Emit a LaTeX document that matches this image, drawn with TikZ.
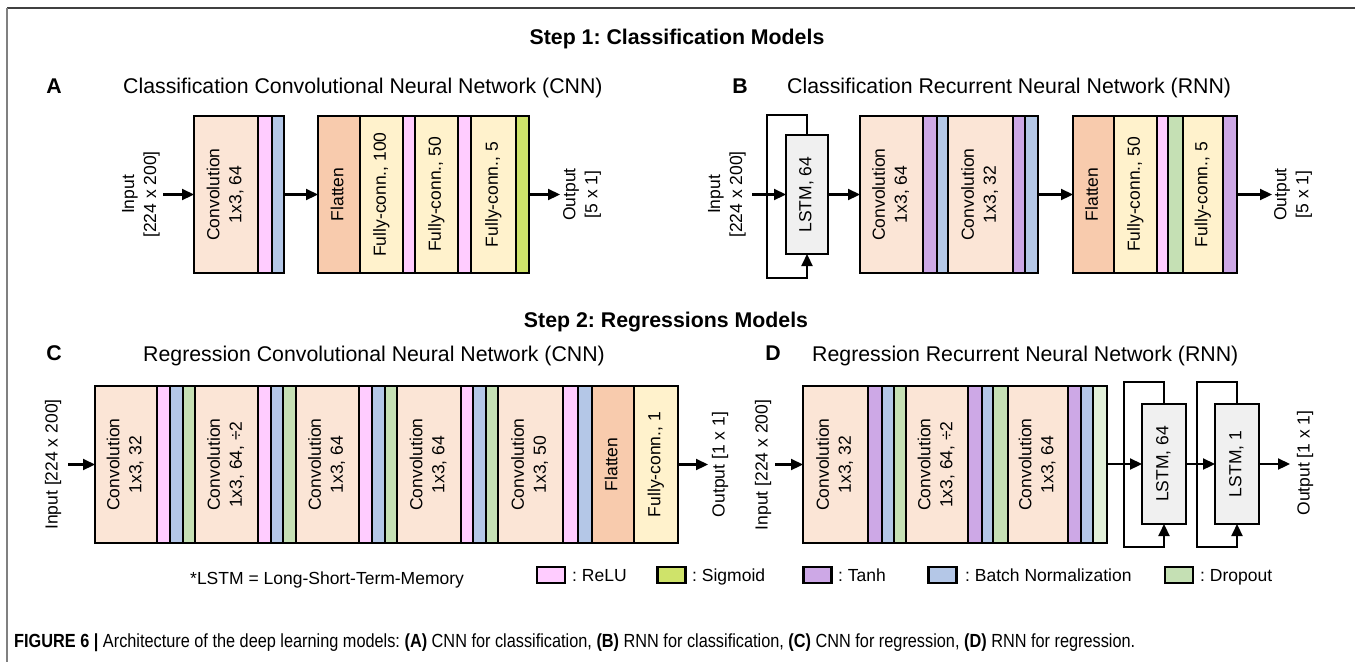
\documentclass[tikz,border=0pt]{standalone}
\usepackage{fontspec}
\setmainfont{Liberation Sans}
\usepackage{graphicx}
\usetikzlibrary{arrows.meta}
\definecolor{cconv}{HTML}{FBE5D6}
\definecolor{cflat}{HTML}{F8CBAD}
\definecolor{cfc}{HTML}{FFF2CC}
\definecolor{crelu}{HTML}{FFCCFF}
\definecolor{cbn}{HTML}{B4C7E7}
\definecolor{cdrop}{HTML}{C5E0B4}
\definecolor{cdropl}{HTML}{E2F0D9}
\definecolor{csig}{HTML}{CFE36A}
\definecolor{ctanh}{HTML}{CDA8E6}
\definecolor{clstm}{HTML}{F0F0F0}
\newcommand\btop{116}
\newcommand\bbot{273}
\newcommand\blk[5]{\node[blkbase,fill=#1,minimum width={(#3-#2)*1pt},minimum height={(\bbot-\btop)*1pt}] (#4) at ({(#2+#3)/2},{(\btop+\bbot)/2}) {#5};}
\newcommand\rtxt[1]{\rotatebox{90}{\begin{tabular}{@{}c@{}}#1\end{tabular}}}
\frenchspacing
\begin{document}
\begin{tikzpicture}[x=1pt,y=-1pt,
  blkbase/.style={draw,line width=2.2pt,rectangle,inner sep=0pt,outer sep=0pt,font=\fontsize{17.5}{22}\selectfont},
  lstm/.style={blkbase,fill=clstm},
  arr/.style={line width=2.2pt,-{Triangle[length=12pt,width=11pt]}},
  lbl/.style={font=\fontsize{17.5}{22}\selectfont,align=center,inner sep=0pt,rotate=90},
  ttl/.style={font=\fontsize{21.3}{25}\selectfont,anchor=base west,inner sep=0pt},
  hd/.style={font=\fontsize{21.3}{25}\selectfont\bfseries,anchor=base,inner sep=0pt},
  leg/.style={draw,line width=2.2pt,minimum width=28pt,minimum height=16pt,inner sep=0pt},
  legt/.style={font=\fontsize{17.5}{22}\selectfont,anchor=base west,inner sep=0pt}]
\useasboundingbox (0,0) rectangle (1355,662);
% frame
\draw[line width=2pt,black!75] (7,8) -- (1355,8);
\draw[line width=2pt,black!50] (7,8) -- (7,662);
% headings
\node[hd] (s1) at (677,44.7) {Step 1: Classification Models};
\node[hd] (s2) at (666,327) {Step 2: Regressions Models};
\node[hd] (lA) at (54,93) {A};
\node[hd] (lB) at (740,93) {B};
\node[hd] (lC) at (54,360.5) {C};
\node[hd] (lD) at (773,360.5) {D};
\node[ttl] (tA) at (123,93.5) {Classification Convolutional Neural Network (CNN)};
\node[ttl] (tB) at (787,93.5) {Classification Recurrent Neural Network (RNN)};
\node[ttl] (tC) at (143,361) {Regression Convolutional Neural Network (CNN)};
\node[ttl] (tD) at (812,361) {Regression Recurrent Neural Network (RNN)};
% ---------------- Panel A
\blk{cconv}{194}{258}{a1}{\rtxt{Convolution\\1x3, 64}}
\blk{crelu}{258}{272}{a2}{}
\blk{cbn}{272}{284}{a3}{}
\blk{cflat}{318}{360}{a4}{\rtxt{Flatten}}
\blk{cfc}{360}{403}{a5}{\rtxt{Fully-conn., 100}}
\blk{crelu}{403}{415}{a6}{}
\blk{cfc}{415}{458}{a7}{\rtxt{Fully-conn., 50}}
\blk{crelu}{458}{471}{a8}{}
\blk{cfc}{471}{516}{a9}{\rtxt{Fully-conn., 5}}
\blk{csig}{516}{529}{a10}{}
\node[lbl] (inAl) at (141,194.5) {Input\\{}[224 x 200]};
\node[lbl] (outAl) at (582,194.5) {Output\\{}[5 x 1]};
\coordinate (inA) at (163,194.5);
\coordinate (outA) at (560,194.5);
\draw[arr] (inA) -- (a1.west);
\draw[arr] (a3.east) -- (a4.west);
\draw[arr] (a10.east) -- (outA);
% ---------------- Panel B
\node[lstm,minimum width=42pt,minimum height=119pt] (b0) at (807,194.5) {\rtxt{LSTM, 64}};
\blk{cconv}{860}{923}{b1}{\rtxt{Convolution\\1x3, 64}}
\blk{ctanh}{923}{937}{b2}{}
\blk{cbn}{937}{948}{b3}{}
\blk{cconv}{948}{1013}{b4}{\rtxt{Convolution\\1x3, 32}}
\blk{ctanh}{1013}{1025}{b5}{}
\blk{cbn}{1025}{1038}{b6}{}
\blk{cflat}{1073}{1114}{b7}{\rtxt{Flatten}}
\blk{cfc}{1114}{1157}{b8}{\rtxt{Fully-conn., 50}}
\blk{crelu}{1157}{1168}{b9}{}
\blk{cdrop}{1168}{1183}{b10}{}
\blk{cfc}{1183}{1223}{b11}{\rtxt{Fully-conn., 5}}
\blk{ctanh}{1223}{1237}{b12}{}
\node[lbl] (inBl) at (727,194.5) {Input\\{}[224 x 200]};
\node[lbl] (outBl) at (1293,194.5) {Output\\{}[5 x 1]};
\coordinate (inB) at (752,194.5);
\coordinate (outB) at (1272,194.5);
\draw[arr] (inB) -- (b0.west);
\draw[arr] (b0.north) -- ++(0,-20) -| ++(-40,163) -| (b0.south);
\draw[arr] (b0.east) -- (b1.west);
\draw[arr] (b6.east) -- (b7.west);
\draw[arr] (b12.east) -- (outB);
% ---------------- Panel C
\renewcommand\btop{386}
\renewcommand\bbot{543}
\blk{cconv}{95}{157}{c1}{\rtxt{Convolution\\1x3, 32}}
\blk{crelu}{157}{170}{c2}{}
\blk{cbn}{170}{183}{c3}{}
\blk{cdrop}{183}{195}{c4}{}
\blk{cconv}{195}{258}{c5}{\rtxt{Convolution\\1x3, 64, ÷2}}
\blk{crelu}{258}{271}{c6}{}
\blk{cbn}{271}{283}{c7}{}
\blk{cdrop}{283}{296}{c8}{}
\blk{cconv}{296}{359}{c9}{\rtxt{Convolution\\1x3, 64}}
\blk{crelu}{359}{372}{c10}{}
\blk{cbn}{372}{385}{c11}{}
\blk{cdrop}{385}{397}{c12}{}
\blk{cconv}{397}{461}{c13}{\rtxt{Convolution\\1x3, 64}}
\blk{crelu}{461}{473}{c14}{}
\blk{cbn}{473}{486}{c15}{}
\blk{cdrop}{486}{498}{c16}{}
\blk{cconv}{498}{563}{c17}{\rtxt{Convolution\\1x3, 50}}
\blk{crelu}{563}{578}{c18}{}
\blk{cbn}{578}{592}{c19}{}
\blk{cflat}{592}{634}{c20}{\rtxt{Flatten}}
\blk{cfc}{634}{678}{c21}{\rtxt{Fully-conn., 1}}
\node[lbl] (inCl) at (53,464.5) {Input [224 x 200]};
\node[lbl] (outCl) at (720,464.5) {Output [1 x 1]};
\coordinate (inC) at (68,464.5);
\coordinate (outC) at (708,464.5);
\draw[arr] (inC) -- (c1.west);
\draw[arr] (c21.east) -- (outC);
% ---------------- Panel D
\blk{cconv}{803}{868}{d1}{\rtxt{Convolution\\1x3, 32}}
\blk{ctanh}{868}{882}{d2}{}
\blk{cbn}{882}{894}{d3}{}
\blk{cdrop}{894}{906}{d4}{}
\blk{cconv}{906}{968}{d5}{\rtxt{Convolution\\1x3, 64, ÷2}}
\blk{ctanh}{968}{982}{d6}{}
\blk{cbn}{982}{993}{d7}{}
\blk{cdrop}{993}{1008}{d8}{}
\blk{cconv}{1008}{1068}{d9}{\rtxt{Convolution\\1x3, 64}}
\blk{ctanh}{1068}{1081}{d10}{}
\blk{cbn}{1081}{1093}{d11}{}
\blk{cdropl}{1093}{1107}{d12}{}
\node[lstm,minimum width=44pt,minimum height=120pt] (d13) at (1164,464) {\rtxt{LSTM, 64}};
\node[lstm,minimum width=44pt,minimum height=120pt] (d14) at (1237,464) {\rtxt{LSTM, 1}};
\node[lbl] (inDl) at (763,465) {Input [224 x 200]};
\node[lbl] (outDl) at (1305,463) {Output [1 x 1]};
\coordinate (inD) at (775,464.5);
\coordinate (outD) at (1290,464);
\draw[arr] (inD) -- (d1.west);
\draw[arr] (d12.east |- d13.west) -- (d13.west);
\draw[arr] (d13.north) -- ++(0,-22) -| ++(-40,165) -| (d13.south);
\draw[arr] (d13.east) -- (d14.west);
\draw[arr] (d14.north) -- ++(0,-22) -| ++(-40,165) -| (d14.south);
\draw[arr] (d14.east) -- (outD);
% ---------------- Legend
\node[legt] (note) at (190,584.5) {*LSTM = Long-Short-Term-Memory};
\node[leg,fill=crelu] (g1) at (551,575) {};
\node[legt] (g1t) at (572,581.5) {: ReLU};
\node[leg,fill=csig] (g2) at (671.5,575) {};
\node[legt] (g2t) at (692,581.5) {: Sigmoid};
\node[leg,fill=ctanh] (g3) at (817.5,575) {};
\node[legt] (g3t) at (838,581.5) {: Tanh};
\node[leg,fill=cbn] (g4) at (942.5,575) {};
\node[legt] (g4t) at (965,581.5) {: Batch Normalization};
\node[leg,fill=cdrop] (g5) at (1179,575) {};
\node[legt] (g5t) at (1200,581.5) {: Dropout};
% ---------------- Caption
\node[anchor=base west,inner sep=0pt] (cap) at (14,647.5) {\resizebox{1121pt}{\height}{\fontsize{19}{22}\selectfont\textbf{FIGURE 6 |} Architecture of the deep learning models: \textbf{(A)} CNN for classification, \textbf{(B)} RNN for classification, \textbf{(C)} CNN for regression, \textbf{(D)} RNN for regression.}};
\end{tikzpicture}
\end{document}
